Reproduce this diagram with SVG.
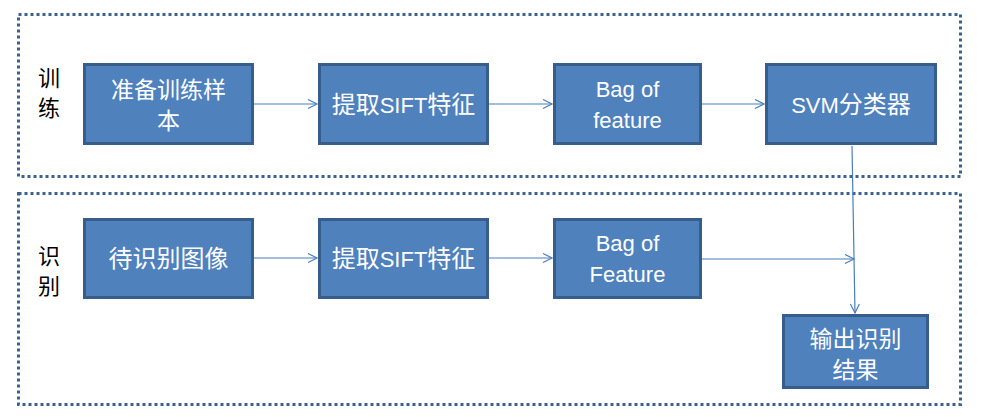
<svg xmlns="http://www.w3.org/2000/svg" width="982" height="419" viewBox="0 0 982 419">
<style>
.frame{fill:none;stroke:#3c6090;stroke-width:3;stroke-dasharray:3 3}
.box{fill:#4f81bd;stroke:#385d8a;stroke-width:3}
.t{fill:#ffffff;font-family:"Noto Sans CJK SC","Liberation Sans",sans-serif;font-size:24px;text-anchor:middle}
.t2{font-size:23px}
.lat{font-family:"Liberation Sans","Noto Sans CJK SC",sans-serif;font-size:22px}
.lbl{fill:#000000;font-family:"Noto Sans CJK SC",sans-serif;font-size:22px;text-anchor:middle}
.conn{fill:none;stroke:#4a7ebb;stroke-width:1.2;marker-end:url(#arr)}
</style>
<defs>
<marker id="arr" markerUnits="userSpaceOnUse" markerWidth="12" markerHeight="12" refX="10" refY="5" orient="auto">
<path d="M1,0.5 L10,5 L1,9.5" fill="none" stroke="#4a7ebb" stroke-width="1.2"/>
</marker>
</defs>
<rect class="frame" x="18.5" y="14.5" width="942" height="162"/>
<rect class="frame" x="18.5" y="193.5" width="942" height="211"/>
<g id="label-train">
<text class="lbl" x="49" y="86">训</text>
<text class="lbl" x="49" y="116">练</text>
</g>
<g id="label-recog">
<text class="lbl" x="49" y="264">识</text>
<text class="lbl" x="49" y="294">别</text>
</g>
<g id="connectors">
<line class="conn" x1="254" y1="104" x2="317" y2="104"/>
<line class="conn" x1="489" y1="104" x2="552" y2="104"/>
<line class="conn" x1="702" y1="104" x2="764" y2="104"/>
<line class="conn" x1="254" y1="258" x2="317" y2="258"/>
<line class="conn" x1="489" y1="258" x2="552" y2="258"/>
<line class="conn" x1="702" y1="259" x2="854" y2="259"/>
<line class="conn" x1="852" y1="146" x2="855" y2="313"/>
</g>
<g id="n-prepare">
<rect class="box" x="84.5" y="64.5" width="168" height="79"/>
<text class="t t2" x="168.5" y="98">准备训练样</text>
<text class="t t2" x="168.5" y="129">本</text>
</g>
<g id="n-sift1">
<rect class="box" x="319.5" y="64.5" width="168" height="79"/>
<text class="t" x="403.5" y="113">提取<tspan class="lat">SIFT</tspan>特征</text>
</g>
<g id="n-bag1">
<rect class="box" x="554.5" y="64.5" width="146" height="79"/>
<text class="t lat" x="627.5" y="97">Bag of</text>
<text class="t lat" x="627.5" y="128">feature</text>
</g>
<g id="n-svm">
<rect class="box" x="766.5" y="64.5" width="169" height="79"/>
<text class="t" x="851" y="113"><tspan class="lat">SVM</tspan>分类器</text>
</g>
<g id="n-image">
<rect class="box" x="84.5" y="219.5" width="168" height="78"/>
<text class="t" x="168.5" y="267">待识别图像</text>
</g>
<g id="n-sift2">
<rect class="box" x="319.5" y="219.5" width="168" height="78"/>
<text class="t" x="403.5" y="267">提取<tspan class="lat">SIFT</tspan>特征</text>
</g>
<g id="n-bag2">
<rect class="box" x="554.5" y="219.5" width="146" height="78"/>
<text class="t lat" x="627.5" y="251">Bag of</text>
<text class="t lat" x="627.5" y="282">Feature</text>
</g>
<g id="n-output">
<rect class="box" x="783.5" y="315.5" width="144" height="72"/>
<text class="t t2" x="855.5" y="347">输出识别</text>
<text class="t t2" x="855.5" y="378">结果</text>
</g>
</svg>
